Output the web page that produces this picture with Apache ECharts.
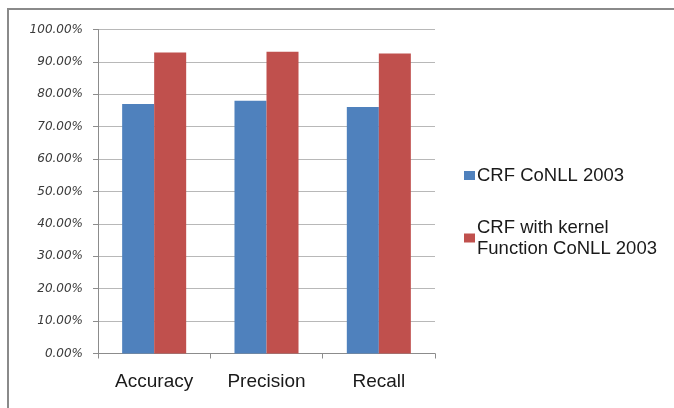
<!DOCTYPE html>
<html>
<head>
<meta charset="utf-8">
<script src="https://cdn.jsdelivr.net/npm/echarts@6/dist/echarts.min.js"></script>
<style>
html,body{margin:0;padding:0;background:#fff;}
#c{width:674px;height:408px;}
</style>
</head>
<body>
<div id="c"></div>
<script>
var categories = ['Accuracy', 'Precision', 'Recall'];
var seriesNames = ['CRF CoNLL 2003', 'CRF with kernel\nFunction CoNLL 2003'];
var crfValues = [77.0, 78.0, 76.1];
var kernelValues = [92.9, 93.1, 92.6];
var yTicks = [0, 10, 20, 30, 40, 50, 60, 70, 80, 90, 100];

var chart = echarts.init(document.getElementById('c'), null, {renderer: 'canvas'});
chart.setOption({
  animation: false,
  backgroundColor: '#ffffff',
  graphic: [{
    type: 'rect',
    shape: {x: 8, y: 9, width: 700, height: 500},
    style: {fill: 'none', stroke: '#8a8a8a', lineWidth: 2},
    silent: true
  }],
  grid: {left: 98, right: 239, top: 29.5, bottom: 54.5, containLabel: false},
  legend: {
    orient: 'vertical',
    left: 459,
    top: 160,
    itemWidth: 11,
    itemHeight: 9,
    itemGap: 31,
    icon: 'rect',
    selectedMode: false,
    textStyle: {fontFamily: 'Liberation Sans', fontSize: 18.5, color: '#1a1a1a', lineHeight: 21, padding: [0, 0, 0, -3]},
    data: seriesNames
  },
  xAxis: {
    type: 'category',
    data: categories,
    axisLine: {lineStyle: {color: '#8c8c8c', width: 1}},
    axisTick: {show: true, length: 5, lineStyle: {color: '#8c8c8c'}},
    axisLabel: {margin: 19, fontFamily: 'Liberation Sans', fontSize: 19, color: '#1a1a1a'}
  },
  yAxis: {
    type: 'value',
    min: yTicks[0],
    max: yTicks[yTicks.length - 1],
    interval: 10,
    axisLine: {show: true, lineStyle: {color: '#8c8c8c', width: 1}},
    axisTick: {show: true, length: 5, lineStyle: {color: '#8c8c8c'}},
    splitLine: {lineStyle: {color: '#b8b8b8', width: 1}},
    axisLabel: {
      margin: 15,
      fontFamily: 'DejaVu Sans',
      fontStyle: 'italic',
      fontSize: 12,
      color: '#3a3a3a',
      padding: [2, 0, 0, 0],
      formatter: function (v) { return v.toFixed(2) + '%'; }
    }
  },
  series: [{
    name: seriesNames[0],
    type: 'bar',
    data: crfValues,
    barGap: '0%',
    barCategoryGap: '43%',
    itemStyle: {color: '#4F81BD'}
  }, {
    name: seriesNames[1],
    type: 'bar',
    data: kernelValues,
    barGap: '0%',
    barCategoryGap: '43%',
    itemStyle: {color: '#C0504D'}
  }]
});
</script>
</body>
</html>
